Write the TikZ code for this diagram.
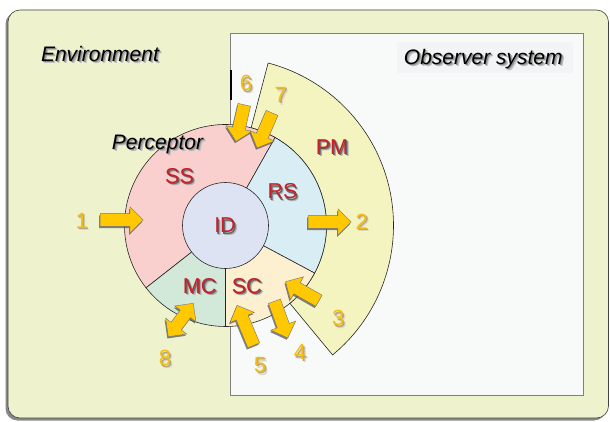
\documentclass[tikz,border=0pt]{standalone}
\usepackage{fontspec}
\setmainfont{Liberation Sans}
\usetikzlibrary{calc,shapes.arrows}
\definecolor{envbg}{RGB}{239,243,205}
\definecolor{obsbg}{RGB}{248,250,250}
\definecolor{obsbox}{RGB}{243,244,245}
\definecolor{pmc}{RGB}{244,244,192}
\definecolor{ssc}{RGB}{250,208,206}
\definecolor{rsc}{RGB}{216,238,244}
\definecolor{scc}{RGB}{253,240,208}
\definecolor{mcc}{RGB}{210,232,216}
\definecolor{idc}{RGB}{222,227,243}
\definecolor{lblred}{RGB}{200,32,40}
\definecolor{gold}{RGB}{255,200,0}
\definecolor{numgold}{RGB}{242,190,20}
\definecolor{numshadow}{RGB}{120,90,20}
% text with a soft drop shadow, all in one node
\newcommand{\shd}[3]{% #1 far shadow colour, #2 near shadow colour, #3 text
  \rlap{\smash{\kern2.4pt\raisebox{-2.6pt}{\color{#1}#3}}}%
  \rlap{\smash{\kern1.2pt\raisebox{-1.4pt}{\color{#2}#3}}}#3}
\newcommand{\blockarrow}[4]{%
  \path let \p1=($(#4)-(#3)$), \n1={atan2(\y1,\x1)}, \n2={veclen(\x1,\y1)} in
    node[#2, minimum height=\n2, rotate=\n1, fill=black!65, draw=none, opacity=0.75]
      at ($($(#3)!0.5!(#4)$)+(-1,-1.8)$) {}
    node[#2, minimum height=\n2, rotate=\n1] (#1) at ($(#3)!0.5!(#4)$) {};
}
\begin{document}
\begin{tikzpicture}[x=1pt,y=1pt,
  italbl/.style={inner sep=0pt, font=\fontsize{21}{25}\selectfont\itshape, text=black},
  redlbl/.style={inner sep=0pt, font=\fontsize{21.5}{25}\selectfont, text=lblred},
  numlbl/.style={inner sep=0pt, font=\fontsize{22}{26}\selectfont, text=numgold},
  sector/.style={draw=black!85, line width=0.6pt},
  sarrow/.style={single arrow, fill=gold, draw=black!55, line width=0.4pt,
    inner sep=0pt, inner ysep=6.2pt, single arrow head extend=6.8pt,
    single arrow tip angle=90},
  darrow/.style={double arrow, fill=gold, draw=black!55, line width=0.4pt,
    inner sep=0pt, inner ysep=6.2pt, double arrow head extend=6.8pt,
    double arrow tip angle=90}]
\useasboundingbox (0,0) rectangle (610,421);
% environment
\fill[black!55, opacity=0.85, rounded corners=12pt] (5.5,0.5) rectangle (606,409);
\draw[black!75, fill=envbg, line width=0.6pt, rounded corners=12pt] (8,3) rectangle (608.5,411);
% observer system
\draw[black!50, fill=obsbg, line width=0.8pt] (230.7,25.4) rectangle (583.6,388);
\fill[obsbox] (396.7,347.7) rectangle (572.7,379.3);
\draw[black, line width=2pt] (230.7,351) -- (230.7,321);
% perceptor geometry
\coordinate (C) at (225.5,195.5);
\draw[sector, fill=pmc] ($(C)+(-50.4:101)$) -- ($(C)+(-50.4:168)$)
  arc[start angle=-50.4, end angle=75.3, radius=168]
  -- ($(C)+(75.3:101)$) arc[start angle=75.3, end angle=-50.4, radius=101] -- cycle;
\draw[sector, fill=ssc] (C) -- ($(C)+(60.6:101)$) arc[start angle=60.6, end angle=218.1, radius=101] -- cycle;
\draw[sector, fill=rsc] (C) -- ($(C)+(-28.1:101)$) arc[start angle=-28.1, end angle=60.6, radius=101] -- cycle;
\draw[sector, fill=scc] (C) -- ($(C)+(-90:101)$) arc[start angle=-90, end angle=-28.1, radius=101] -- cycle;
\draw[sector, fill=mcc] (C) -- ($(C)+(218.1:101)$) arc[start angle=218.1, end angle=270, radius=101] -- cycle;
\node[circle, draw=black!85, line width=0.6pt, fill=idc, minimum size=86pt, inner sep=0pt] (idc) at (C) {};
% titles
\node[italbl] (env) at (100,367.3) {\shd{black!25}{black!45}{Environment}};
\node[italbl, anchor=base] (obs) at (483.3,356.7) {\shd{black!25}{black!45}{Observer system}};
\node[italbl, anchor=base] (perc) at (157.5,271.7) {\shd{black!25}{black!45}{Perceptor}};
% component labels
\node[redlbl] (ss) at (179.5,245.3) {\shd{black!30}{black!60}{SS}};
\node[redlbl] (rs) at (282.5,229.7) {\shd{black!30}{black!60}{RS}};
\node[redlbl] (pm) at (332,274.3) {\shd{black!30}{black!60}{PM}};
\node[redlbl] (id) at (225,195.7) {\shd{black!30}{black!60}{ID}};
\node[redlbl] (mc) at (199.7,135.2) {\shd{black!30}{black!60}{MC}};
\node[redlbl] (sc) at (246.7,135.2) {\shd{black!30}{black!60}{SC}};
% arrows
\blockarrow{a1}{sarrow}{97,201}{140,201}
\blockarrow{a2}{sarrow}{305,199}{348,199}
\blockarrow{a3}{sarrow}{321.7,118.7}{288.3,137.7}
\blockarrow{a4}{sarrow}{273.3,122.7}{286.7,86}
\blockarrow{a5}{sarrow}{255,72.7}{238.3,112.7}
\blockarrow{a6}{sarrow}{245,319.3}{236.7,282.7}
\blockarrow{a7}{sarrow}{273.3,311}{258.3,276}
\blockarrow{a8}{darrow}{193.3,117.7}{168.3,84.3}
% numbers
\node[numlbl] (n1) at (81.7,200.3) {\shd{numshadow!25}{numshadow!55}{1}};
\node[numlbl] (n2) at (361.7,199.3) {\shd{numshadow!25}{numshadow!55}{2}};
\node[numlbl] (n3) at (338.3,102.7) {\shd{numshadow!25}{numshadow!55}{3}};
\node[numlbl] (n4) at (300,68.7) {\shd{numshadow!25}{numshadow!55}{4}};
\node[numlbl] (n5) at (260,56) {\shd{numshadow!25}{numshadow!55}{5}};
\node[numlbl] (n6) at (246,337.7) {\shd{numshadow!25}{numshadow!55}{6}};
\node[numlbl] (n7) at (280.7,326) {\shd{numshadow!25}{numshadow!55}{7}};
\node[numlbl] (n8) at (165,62.7) {\shd{numshadow!25}{numshadow!55}{8}};
\end{tikzpicture}
\end{document}
